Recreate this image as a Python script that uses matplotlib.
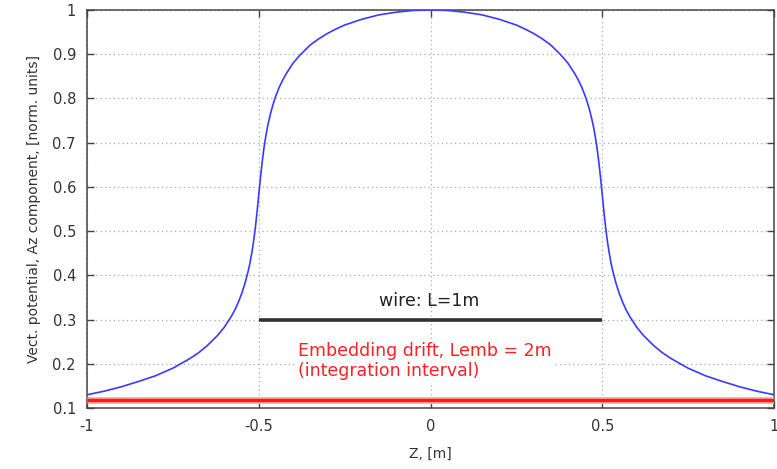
import numpy as np
import matplotlib
matplotlib.use("Agg")
import matplotlib.pyplot as plt

# blue curve: normalized Az along z
z_pos = [-1.0, -0.95, -0.9, -0.85, -0.8, -0.75, -0.7, -0.675, -0.65, -0.62, -0.6, -0.58,
         -0.57, -0.56, -0.55, -0.54, -0.53, -0.525, -0.52, -0.515, -0.51, -0.505, -0.5,
         -0.495, -0.49, -0.485, -0.48, -0.475, -0.47, -0.465, -0.46, -0.455, -0.45, -0.44,
         -0.43, -0.42, -0.4, -0.38, -0.35, -0.325, -0.3, -0.275, -0.25, -0.2, -0.15, -0.1,
         -0.05, 0.0,
         0.05, 0.1, 0.15, 0.2, 0.25, 0.275, 0.3, 0.325, 0.35, 0.38, 0.4, 0.42, 0.43, 0.44,
         0.45, 0.455, 0.46, 0.465, 0.47, 0.475, 0.48, 0.485, 0.49, 0.495, 0.5,
         0.505, 0.51, 0.515, 0.52, 0.525, 0.53, 0.54, 0.55, 0.56, 0.57, 0.58, 0.6,
         0.62, 0.65, 0.675, 0.7, 0.75, 0.8, 0.85, 0.9, 0.95, 1.0]
az_norm = [0.130, 0.138, 0.148, 0.160, 0.173, 0.190, 0.212, 0.225, 0.241, 0.264, 0.283, 0.307,
           0.321, 0.338, 0.358, 0.382, 0.412, 0.430, 0.452, 0.477, 0.507, 0.543, 0.582,
           0.621, 0.656, 0.687, 0.712, 0.734, 0.752, 0.768, 0.782, 0.795, 0.806, 0.826,
           0.842, 0.856, 0.880, 0.898, 0.921, 0.935, 0.947, 0.957, 0.966, 0.979, 0.989, 0.995,
           0.999, 1.000,
           0.999, 0.995, 0.989, 0.979, 0.966, 0.957, 0.947, 0.935, 0.921, 0.898, 0.880, 0.856, 0.842, 0.826,
           0.806, 0.795, 0.782, 0.768, 0.752, 0.734, 0.712, 0.687, 0.656, 0.621, 0.582,
           0.543, 0.507, 0.477, 0.452, 0.430, 0.412, 0.382, 0.358, 0.338, 0.321, 0.307, 0.283,
           0.264, 0.241, 0.225, 0.212, 0.190, 0.173, 0.160, 0.148, 0.138, 0.130]

# wire and embedding drift segments
wire_z = [-0.5, 0.5]
wire_y = [0.3, 0.3]
drift_z = [-1.0, 1.0]
drift_y = [0.117, 0.117]

xticks = [-1, -0.5, 0, 0.5, 1]
yticks = [0.1, 0.2, 0.3, 0.4, 0.5, 0.6, 0.7, 0.8, 0.9, 1]

fig = plt.figure(figsize=(7.77, 4.69), dpi=100)
ax = fig.add_axes([87/777, 61/469, 687/777, 398/469])

ax.grid(True, color='#aaaaaa', linestyle=(0, (1, 2.5)), linewidth=0.9)
ax.set_axisbelow(True)

ax.plot(drift_z, drift_y, color='#ffb0b0', lw=5, solid_capstyle='butt', zorder=3)
ax.plot(drift_z, drift_y, color='#ff1a1a', lw=2.5, solid_capstyle='butt', zorder=3)
ax.plot(wire_z, wire_y, color='#333333', lw=2.6, solid_capstyle='butt', zorder=3)
ax.plot(z_pos, az_norm, color='#3a3aff', lw=1.2, zorder=4)

ax.text(-0.005, 0.343, 'wire: L=1m', ha='center', va='center', fontsize=12.5, color='#222222')
ax.text(-0.386, 0.206, 'Embedding drift, Lemb = 2m\n(integration interval)', ha='left', va='center',
        fontsize=12.5, color='#ff2020', linespacing=1.15,
        bbox=dict(facecolor='white', edgecolor='none', pad=1))

ax.set_xlim(-1, 1)
ax.set_ylim(0.1, 1)
ax.set_xticks(xticks)
ax.set_xticklabels(['-1', '-0.5', '0', '0.5', '1'])
ax.set_yticks(yticks)
ax.set_yticklabels(['0.1', '0.2', '0.3', '0.4', '0.5', '0.6', '0.7', '0.8', '0.9', '1'])
ax.tick_params(direction='in', top=True, right=True, length=5, width=1, color='#444444',
               labelcolor='#333333', labelsize=10.5, pad=8)
for s in ax.spines.values():
    s.set_color('#444444')
    s.set_linewidth(1.1)

ax.set_xlabel('Z, [m]', fontsize=10, color='#333333', labelpad=9)
ax.set_ylabel('Vect. potential, Az component, [norm. units]', fontsize=10, color='#333333', labelpad=8)

fig.savefig('out.png', dpi=100)
